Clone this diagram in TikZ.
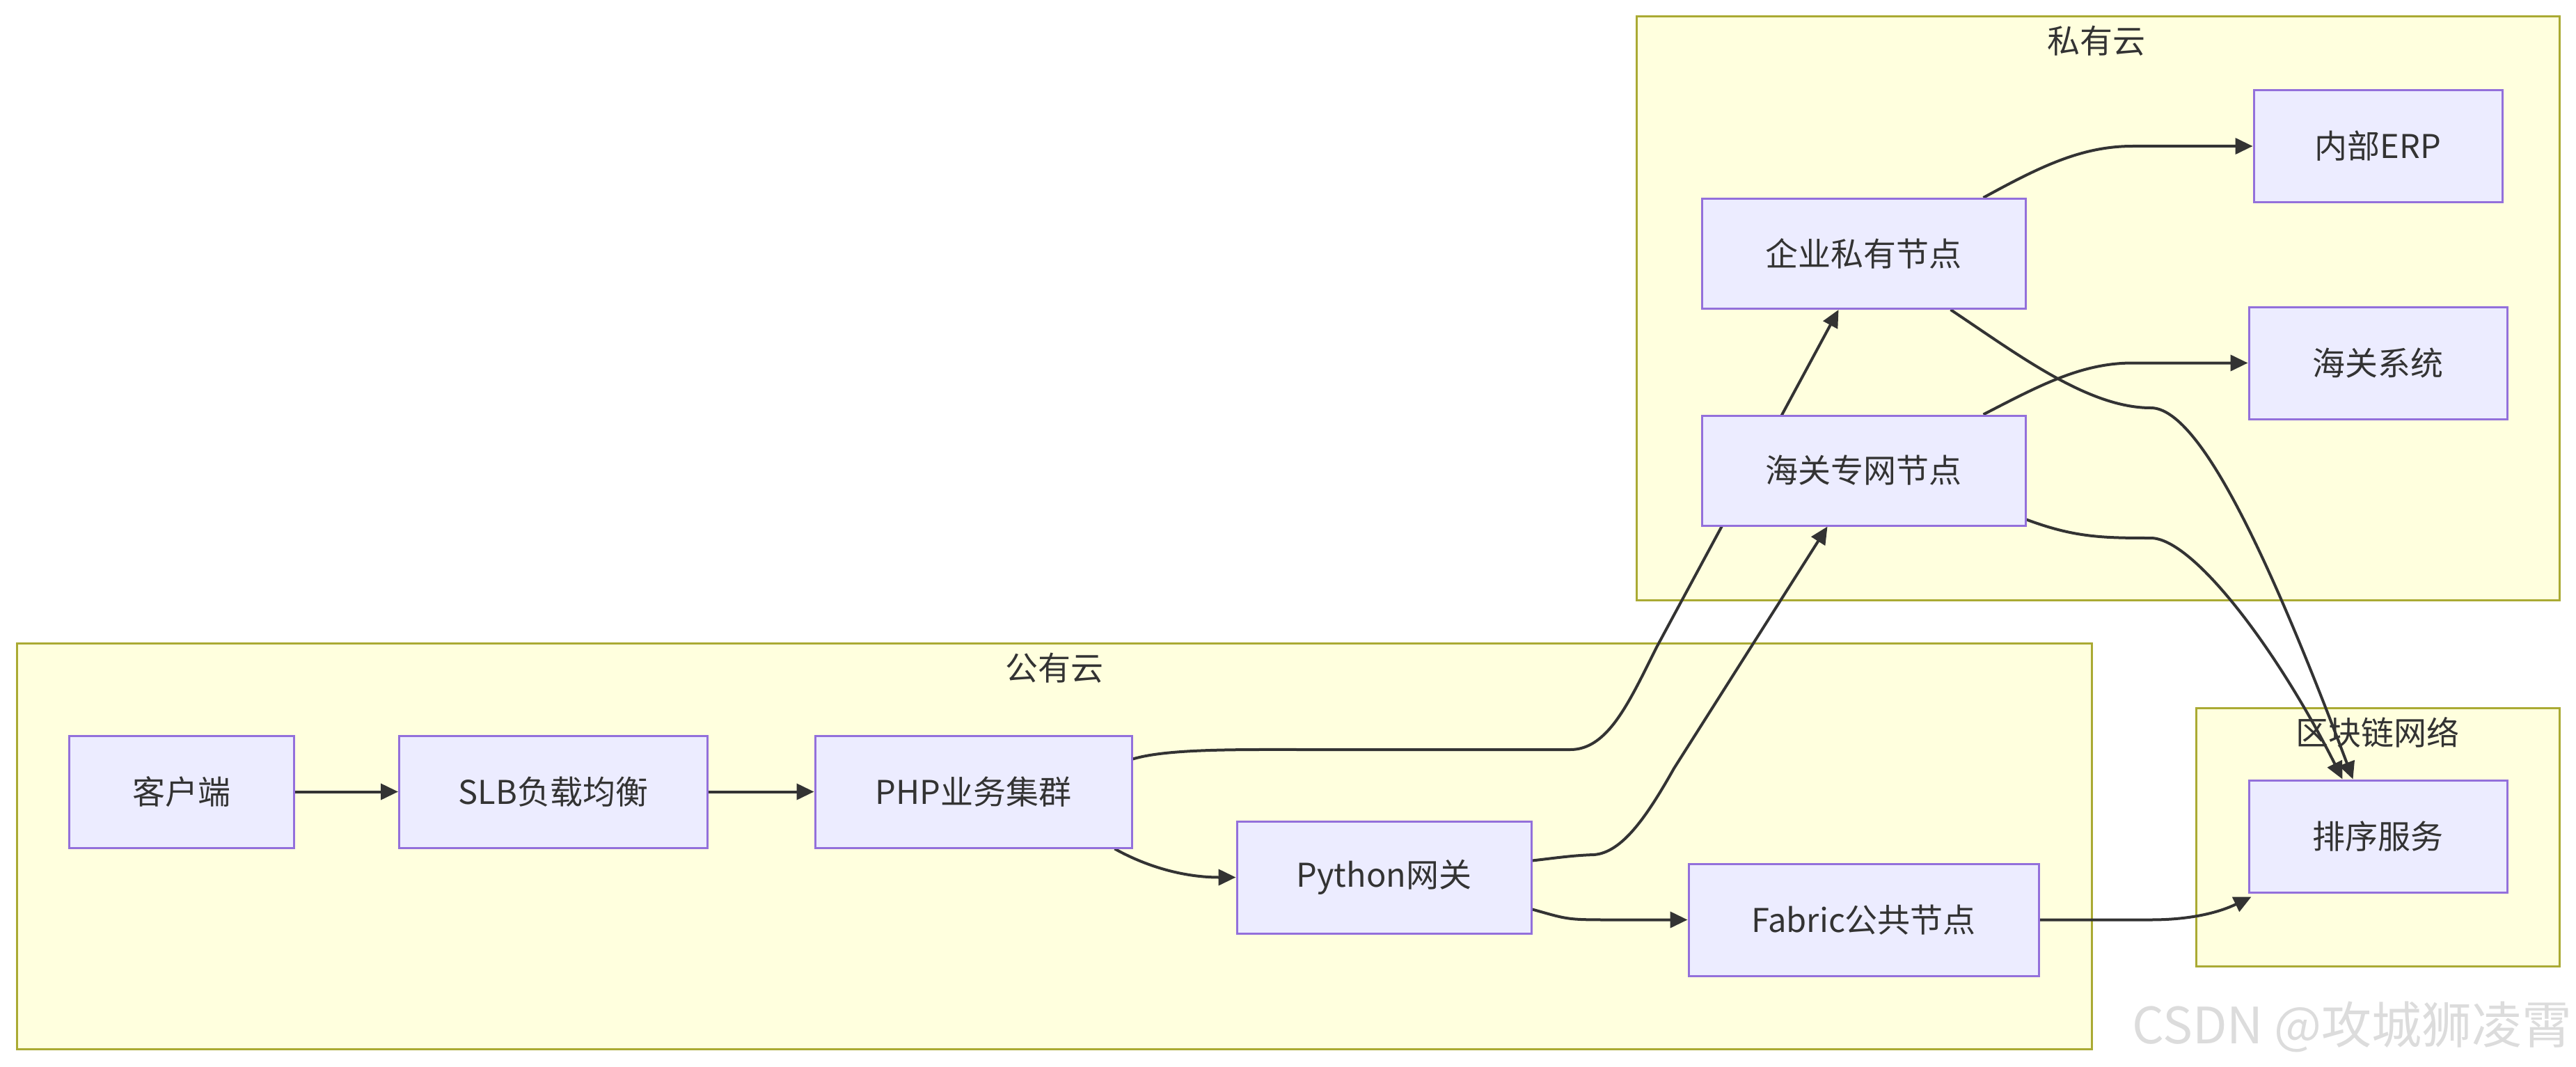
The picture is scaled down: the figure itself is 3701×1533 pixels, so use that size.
\documentclass[tikz,border=0pt]{standalone}
\usepackage{fontspec}
\setmainfont{Noto Sans CJK SC}
\usetikzlibrary{arrows.meta,calc}
\pgfdeclarelayer{bg}
\pgfdeclarelayer{edges}
\pgfsetlayers{bg,edges,main}
\definecolor{nodefill}{HTML}{ECECFF}
\definecolor{nodeline}{HTML}{9370DB}
\definecolor{clfill}{HTML}{FFFFDE}
\definecolor{clline}{HTML}{AAAA33}
\definecolor{ink}{HTML}{333333}
\definecolor{wmark}{HTML}{DCDCDC}
\begin{document}
\begin{tikzpicture}[x=1pt,y=-1pt,
  box/.style={draw=nodeline, fill=nodefill, line width=3pt, inner sep=0pt, text=ink,
    font=\fontsize{47}{56}\selectfont},
  cluster/.style={draw=clline, fill=clfill, line width=3pt},
  ctitle/.style={text=ink, inner sep=0pt, font=\fontsize{47}{56}\selectfont},
  edge/.style={draw=ink, line width=4pt, -{Triangle[length=25pt,width=23pt]}}]
\useasboundingbox (0,0) rectangle (3701,1533);

% nodes
\node[box, minimum width=323pt, minimum height=161pt] (client) at (260.5,1137.5) {客户端};
\node[box, minimum width=443pt, minimum height=161pt] (slb) at (795,1137.5) {SLB负载均衡};
\node[box, minimum width=455pt, minimum height=161pt] (php) at (1398.5,1137.5) {PHP业务集群};
\node[box, minimum width=423pt, minimum height=161pt] (py) at (1988.5,1260.5) {Python网关};
\node[box, minimum width=503pt, minimum height=161pt] (fab) at (2677.5,1321.5) {Fabric公共节点};
\node[box, minimum width=465pt, minimum height=158pt] (ent) at (2677.5,364.5) {企业私有节点};
\node[box, minimum width=465pt, minimum height=158pt] (cus) at (2677.5,676) {海关专网节点};
\node[box, minimum width=357pt, minimum height=160pt] (erp) at (3416.5,210) {内部ERP};
\node[box, minimum width=371pt, minimum height=161pt] (cussys) at (3416.5,521.5) {海关系统};
\node[box, minimum width=371pt, minimum height=161pt] (ord) at (3416.5,1201.5) {排序服务};

% background and clusters
\begin{pgfonlayer}{bg}
\fill[white] (0,0) rectangle (3701,1533);
\draw[cluster] (24,924) rectangle (3005,1507);
\draw[cluster] (2351,24) rectangle (3677,862);
\draw[cluster] (3155,1017) rectangle (3677,1388);
\node[ctitle] (tpub) at (1515,960) {公有云};
\node[ctitle] (tpriv) at (3012,59) {私有云};
\node[ctitle] (tchain) at (3416,1052) {区块链网络};
\end{pgfonlayer}

% edges
\begin{pgfonlayer}{edges}
\draw[edge] (client.east) -- (slb.west);
\draw[edge] (slb.east) -- (php.west);
\draw[edge] ([xshift=-26pt]php.south east) .. controls +(50,28) and +(-70,0) .. (py.west);
\draw[edge] ([yshift=-35pt]php.north east) .. controls +(50,-15) and (1780,1077) .. (1880,1077)
  -- (2256,1077) .. controls (2310,1077) and (2340,1010) .. (2380,930) -- ([xshift=-36pt]ent.south);
\draw[edge] ([yshift=24pt]py.east) .. controls (2240,1232) and (2260,1229) .. (2290,1228)
  .. controls (2330,1225) and (2365,1175) .. (2405,1104) -- ([xshift=-52pt]cus.south);
\draw[edge] ([yshift=-46pt]py.east) .. controls +(50,14) and +(-60,0) .. (2310,1321.5) -- (fab.west);
\draw[edge] (fab.east) -- (3090,1321.5) .. controls (3150,1321.5) and (3190,1310) .. ([xshift=5pt,yshift=-5pt]ord.south west);
\draw[edge] ([xshift=172pt]ent.north) .. controls (2930,240) and (2990,210) .. (3064,210) -- (erp.west);
\draw[edge] ([xshift=172pt]cus.north) .. controls (2930,554) and (2990,521.5) .. (3064,521.5) -- (cussys.west);
\draw[edge] ([xshift=125pt]ent.south) .. controls (2900,510) and (3000,586) .. (3090,586)
  .. controls (3160,586) and (3260,800) .. ([xshift=-36pt]ord.north);
\draw[edge] ([yshift=10pt]cus.south east) .. controls (2980,772) and (3020,773) .. (3090,773)
  .. controls (3150,773) and (3270,930) .. ([xshift=-51pt]ord.north);
\end{pgfonlayer}

% watermark
\node[text=wmark, inner sep=0pt, anchor=east, font=\fontsize{72}{76}\selectfont] (wm) at (3696,1475) {CSDN @攻城狮凌霄};
\end{tikzpicture}
\end{document}
